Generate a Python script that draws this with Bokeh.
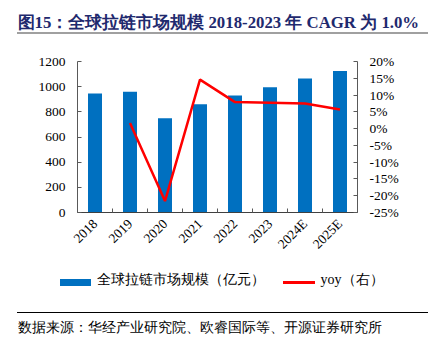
import numpy as np
from bokeh.plotting import figure
from bokeh.models import (ColumnDataSource, Range1d, LinearAxis, FixedTicker,
                          NumeralTickFormatter, Label)
from bokeh.embed import file_html
from bokeh.resources import INLINE

# ---------------- data ----------------
years = ["2018", "2019", "2020", "2021", "2022", "2023", "2024E", "2025E"]
market_size = [945, 960, 750, 860, 930, 995, 1065, 1125]          # 亿元
yoy_years = ["2019", "2020", "2021", "2022", "2023", "2024E", "2025E"]
yoy_pct = [1.7, -21.6, 14.6, 7.9, 7.7, 7.5, 5.7]                  # %
left_ticks = [0, 200, 400, 600, 800, 1000, 1200]
right_ticks_pct = [-25, -20, -15, -10, -5, 0, 5, 10, 15, 20]

TITLE = "图15：全球拉链市场规模 2018-2023 年 CAGR 为 1.0%"
SOURCE = "数据来源：华经产业研究院、欧睿国际等、开源证券研究所"
LEGEND_BAR = "全球拉链市场规模（亿元）"
LEGEND_LINE = "yoy（右）"

# ---------------- styling ----------------
SERIF = "Liberation Serif"
BAR_COLOR = "#0070C0"
LINE_COLOR = "#FF0000"
AXIS_COLOR = "#595959"

pos = {y: i + 0.5 for i, y in enumerate(years)}
bar_src = ColumnDataSource(dict(x=[pos[y] for y in years], top=market_size))
line_src = ColumnDataSource(dict(x=[pos[y] for y in yoy_years],
                                 y=[v / 100.0 for v in yoy_pct]))

# decorations drawn as page background: title rule, source rule, legend swatches
deco_css = {
    "background-color": "white",
    "background-image": ", ".join([
        "linear-gradient(#A0A0A0, #A0A0A0)",
        "linear-gradient(#000000, #000000)",
        f"linear-gradient({BAR_COLOR}, {BAR_COLOR})",
        f"linear-gradient({LINE_COLOR}, {LINE_COLOR})",
    ]),
    "background-size": "411px 2px, 411px 1px, 31px 7px, 32px 3px",
    "background-position": "17px 32px, 17px 312px, 60px 279px, 283px 281px",
    "background-repeat": "no-repeat",
}

p = figure(width=435, height=341, output_backend="svg", toolbar_location=None,
           x_range=Range1d(0, len(years)), y_range=Range1d(left_ticks[0], left_ticks[-1]),
           min_border_left=77, min_border_right=78, min_border_top=61, min_border_bottom=129,
           styles=deco_css)
p.outline_line_color = None
p.xgrid.visible = False
p.ygrid.visible = False
p.background_fill_color = "white"
p.border_fill_color = None

p.extra_y_ranges = {"yoy": Range1d(right_ticks_pct[0] / 100.0, right_ticks_pct[-1] / 100.0)}

bars = p.vbar(x="x", top="top", width=0.4, bottom=0, source=bar_src,
              fill_color=BAR_COLOR, line_color=None)
line = p.line(x="x", y="y", source=line_src, y_range_name="yoy",
              line_color=LINE_COLOR, line_width=2.5)

# x axis
xa = p.xaxis[0]
xa.ticker = FixedTicker(ticks=[pos[y] for y in years],
                        minor_ticks=list(range(len(years) + 1)))
xa.major_label_overrides = {pos[y]: y for y in years}
xa.major_tick_in = 0
xa.major_tick_out = 0
xa.minor_tick_in = 4
xa.minor_tick_out = 0
xa.minor_tick_line_color = AXIS_COLOR
xa.axis_line_color = "#404040"
xa.major_label_orientation = np.pi / 4
xa.major_label_text_font = SERIF
xa.major_label_text_font_size = "13.5px"
xa.major_label_text_color = "black"
xa.major_label_standoff = 9

# left axis
ya = p.yaxis[0]
ya.ticker = FixedTicker(ticks=left_ticks, minor_ticks=[])
ya.major_tick_in = 4
ya.major_tick_out = 0
ya.minor_tick_in = 0
ya.minor_tick_out = 0
ya.axis_line_color = AXIS_COLOR
ya.major_tick_line_color = AXIS_COLOR
ya.major_label_text_font = SERIF
ya.major_label_text_font_size = "13.5px"
ya.major_label_text_color = "black"
ya.major_label_standoff = 12

# right axis
ra = LinearAxis(y_range_name="yoy",
                ticker=FixedTicker(ticks=[t / 100.0 for t in right_ticks_pct], minor_ticks=[]),
                formatter=NumeralTickFormatter(format="0%"))
ra.major_tick_in = 4
ra.major_tick_out = 0
ra.minor_tick_in = 0
ra.minor_tick_out = 0
ra.axis_line_color = AXIS_COLOR
ra.major_tick_line_color = AXIS_COLOR
ra.major_label_text_font = SERIF
ra.major_label_text_font_size = "13.5px"
ra.major_label_text_color = "black"
ra.major_label_standoff = 12
p.add_layout(ra, "right")

# texts in stacked "above" side panels (screen units relative to each panel bottom, y up)
def panel_label(x, y, text, size, bold=False, color="black"):
    return Label(x=x, y=y, x_units="screen", y_units="screen", text=text,
                 text_font=SERIF, text_font_size=size,
                 text_font_style="bold" if bold else "normal",
                 text_color=color, text_baseline="middle", text_align="left")

legend_text = LEGEND_BAR + "\u3000" * 4 + LEGEND_LINE
p.add_layout(panel_label(-60, 39, TITLE, "16.8px", bold=True, color="#1F2A6E"), "above")
p.add_layout(panel_label(19, -237, legend_text, "14px"), "above")
p.add_layout(panel_label(-60, -300, SOURCE, "14px"), "above")

open("out.html", "w").write(file_html(p, INLINE))
